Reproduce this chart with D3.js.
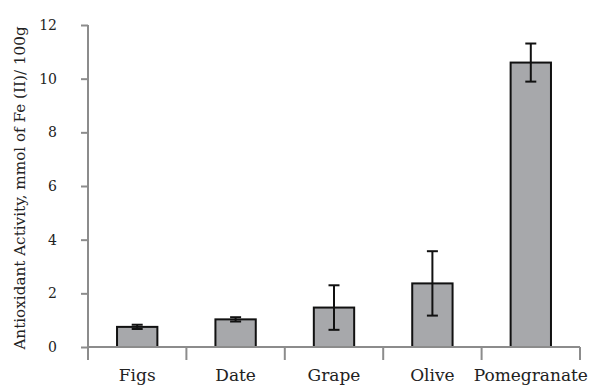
<!DOCTYPE html>
<html>
<head>
<meta charset="utf-8">
<script src="https://cdn.jsdelivr.net/npm/d3@7"></script>
<style>
  body { margin: 0; background: #fff; }
  text { font-family: "DejaVu Serif", serif; fill: #222; }
</style>
</head>
<body>
<svg id="chart" width="593" height="387"></svg>
<script>
// data
var fruits = ["Figs", "Date", "Grape", "Olive", "Pomegranate"];
var activity = [0.75, 1.03, 1.47, 2.37, 10.6];
var errors = [0.08, 0.08, 0.83, 1.2, 0.71];
var yTicks = [0, 2, 4, 6, 8, 10, 12];

var svg = d3.select("#chart"),
    margin = {top: 25, right: 13, bottom: 40, left: 88},
    width = +svg.attr("width") - margin.left - margin.right,
    height = +svg.attr("height") - margin.top - margin.bottom;

var g = svg.append("g")
    .attr("transform", "translate(" + margin.left + "," + margin.top + ")");

var x = d3.scaleBand()
    .domain(fruits)
    .range([0, width])
    .paddingInner(0.59)
    .paddingOuter(0.295);

var y = d3.scaleLinear()
    .domain([0, 12])
    .range([height, 0]);

var axisColor = "#8c8c8c";

// y axis
var yAxis = g.append("g")
    .call(d3.axisLeft(y).tickValues(yTicks).tickSize(7).tickPadding(24));
yAxis.selectAll("path, line").attr("stroke", axisColor).attr("stroke-width", 2);
yAxis.select(".domain").attr("d", "M0," + height + "V0");
yAxis.selectAll("text")
    .style("font-size", "14px")
    .style("font-family", "DejaVu Serif, serif")
    .attr("fill", "#222");

// bars
g.selectAll(".bar")
    .data(fruits)
    .enter().append("rect")
    .attr("class", "bar")
    .attr("x", function(d) { return x(d); })
    .attr("y", function(d, i) { return y(activity[i]); })
    .attr("width", x.bandwidth())
    .attr("height", function(d, i) { return height - y(activity[i]); })
    .attr("fill", "#a7a8ab")
    .attr("stroke", "#111")
    .attr("stroke-width", 2);

// error bars
var err = g.selectAll(".err")
    .data(fruits)
    .enter().append("g")
    .attr("class", "err")
    .attr("transform", function(d) { return "translate(" + (x(d) + x.bandwidth() / 2) + ",0)"; });
err.append("line")
    .attr("y1", function(d, i) { return y(activity[i] + errors[i]); })
    .attr("y2", function(d, i) { return y(activity[i] - errors[i]); });
err.append("line")
    .attr("x1", -5.5).attr("x2", 5.5)
    .attr("y1", function(d, i) { return y(activity[i] + errors[i]); })
    .attr("y2", function(d, i) { return y(activity[i] + errors[i]); });
err.append("line")
    .attr("x1", -5.5).attr("x2", 5.5)
    .attr("y1", function(d, i) { return y(activity[i] - errors[i]); })
    .attr("y2", function(d, i) { return y(activity[i] - errors[i]); });
err.selectAll("line").attr("stroke", "#111").attr("stroke-width", 2);

// x axis, ticks between the categories
var xAxis = g.append("g")
    .attr("transform", "translate(0," + height + ")");
xAxis.append("line")
    .attr("x1", 0).attr("x2", width)
    .attr("stroke", axisColor).attr("stroke-width", 2);
xAxis.selectAll(".sep")
    .data(d3.range(fruits.length + 1))
    .enter().append("line")
    .attr("class", "sep")
    .attr("x1", function(i) { return i * width / fruits.length; })
    .attr("x2", function(i) { return i * width / fruits.length; })
    .attr("y1", 0).attr("y2", 13)
    .attr("stroke", axisColor).attr("stroke-width", 2);
xAxis.selectAll(".lbl")
    .data(fruits)
    .enter().append("text")
    .attr("class", "lbl")
    .attr("x", function(d) { return x(d) + x.bandwidth() / 2; })
    .attr("y", 34)
    .attr("text-anchor", "middle")
    .style("font-size", "17px")
    .text(function(d) { return d; });

// y axis title
svg.append("text")
    .attr("transform", "translate(25," + (margin.top + height / 2 + 2) + ") rotate(-90)")
    .attr("text-anchor", "middle")
    .style("font-size", "15.2px")
    .text("Antioxidant Activity, mmol of Fe (II)/ 100g");
</script>
</body>
</html>
